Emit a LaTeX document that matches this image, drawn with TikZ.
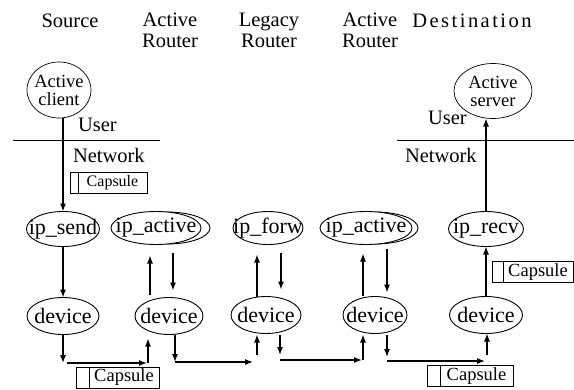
\documentclass[tikz,border=0pt]{standalone}
\usepackage{fontspec}
\setmainfont{Liberation Serif}
\usetikzlibrary{shapes.geometric,arrows.meta}
\newcommand\clapped[1]{\makebox[0pt]{#1}}
\begin{document}
\begin{tikzpicture}[x=1pt,y=-1pt,
  every node/.style={inner sep=0pt, outer sep=0pt},
  hdr/.style={font=\fontsize{20.5}{21}\selectfont, align=center},
  lbl/.style={font=\fontsize{20.5}{21}\selectfont},
  proc/.style={ellipse, draw, line width=0.9pt, fill=white,
    minimum height=34pt, font=\fontsize{22}{22}\selectfont},
  usr/.style={ellipse, draw, line width=0.7pt, align=center,
    font=\fontsize{18.5}{18}\selectfont},
  flow/.style={line width=1.2pt, -{Latex[length=8pt,width=6pt]}},
  layer/.style={line width=0.8pt},
  caps/.style={draw, line width=0.8pt, minimum height=21pt,
    font=\fontsize{18.5}{18}\selectfont}
]
\fill[white] (0,0) rectangle (574,389);
\useasboundingbox (0,0) rectangle (574,389);

% column headings
\node[hdr, anchor=base]  (hsrc) at (70,27)  {Source};
\node[hdr, anchor=north] (har1) at (170,13) {Active\\Router};
\node[hdr, anchor=north] (hlr)  at (269,13) {Legacy\\Router};
\node[hdr, anchor=north] (har2) at (370,13) {Active\\Router};
\node[hdr, anchor=base]  (hdst) at (472,27) {\addfontfeature{LetterSpace=12}Destination};

% applications in user space
\node[usr, minimum width=64pt, minimum height=56pt] (client) at (59,90)
  {\clapped{Active}\\\clapped{client}};
\node[usr, minimum width=78pt, minimum height=55pt] (server) at (493,91)
  {\clapped{Active}\\\clapped{server}};

% user / network boundary
\coordinate (ll1) at (13,140);  \coordinate (lr1) at (160,140);
\coordinate (ll2) at (397,140); \coordinate (lr2) at (574,140);
\draw[layer] (ll1) -- (lr1);
\draw[layer] (ll2) -- (lr2);
\node[lbl, anchor=base west] (user1) at (78,131)  {User};
\node[lbl, anchor=base west] (net1)  at (73,162)  {Network};
\node[lbl, anchor=base west] (user2) at (428,124) {User};
\node[lbl, anchor=base west] (net2)  at (405,162) {Network};

% network-layer processes (shadow ellipses first)
\node[proc, minimum width=86pt, minimum height=32pt] (ipa1s) at (167,228) {};
\node[proc, minimum width=86pt, minimum height=32pt] (ipa2s) at (375,228) {};
\node[proc, minimum width=73pt, minimum height=35pt] (ipsend) at (63,229)  {\clapped{ip\_send}};
\node[proc, minimum width=90pt, minimum height=33pt] (ipa1)   at (156,228) {\clapped{ip\_active}};
\node[proc, minimum width=70pt, minimum height=33pt] (ipf)    at (268,228) {\clapped{ip\_forw}};
\node[proc, minimum width=92pt, minimum height=33pt] (ipa2)   at (366,228) {\clapped{ip\_active}};
\node[proc, minimum width=75pt, minimum height=35pt] (iprecv) at (486,229) {\clapped{ip\_recv}};

% devices
\node[proc, minimum width=72pt, minimum height=37pt] (dev1) at (63,316)  {\clapped{device}};
\node[proc, minimum width=68pt, minimum height=37pt] (dev2) at (169,316) {\clapped{device}};
\node[proc, minimum width=70pt, minimum height=37pt] (dev3) at (266,315) {\clapped{device}};
\node[proc, minimum width=64pt, minimum height=37pt] (dev4) at (375,315) {\clapped{device}};
\node[proc, minimum width=73pt, minimum height=37pt] (dev5) at (486,315) {\clapped{device}};

% capsules
\node[caps, minimum width=69pt, font=\fontsize{16}{16}\selectfont] (cap1) at (112.5,182.5) {Capsule};
\node[caps, minimum width=8pt, anchor=east] (cap1t) at (cap1.west) {};
\node[caps, minimum width=70pt] (cap2) at (124,377.5) {Capsule};
\node[caps, minimum width=13pt, anchor=east] (cap2t) at (cap2.west) {};
\node[caps, minimum width=73pt] (cap3) at (476.5,376) {Capsule};
\node[caps, minimum width=13pt, anchor=east] (cap3t) at (cap3.west) {};
\node[caps, minimum width=70pt] (cap4) at (538,272) {Capsule};
\node[caps, minimum width=11pt, anchor=east] (cap4t) at (cap4.west) {};

% source side: down the stack
\draw[flow] (ipsend.north |- client.south) -- (ipsend.north);
\draw[flow] (ipsend) -- (dev1);

% arrow columns inside the routers
\coordinate (up2) at (150,0);  \coordinate (dn2) at (173,0);
\coordinate (up3) at (257,0);  \coordinate (dn3) at (281,0);
\coordinate (up4) at (363,0);  \coordinate (dn4) at (387,0);
\draw[flow, shorten <=3pt, shorten >=11pt] (up2 |- dev2.north) -- (up2 |- ipa1.south);
\draw[flow, shorten <=8pt, shorten >=7pt]  (dn2 |- ipa1.south) -- (dn2 |- dev2.north);
\draw[flow, shorten >=10pt] (up3 |- dev3.north) -- (up3 |- ipf.south);
\draw[flow, shorten <=8pt, shorten >=7pt]  (dn3 |- ipf.south) -- (dn3 |- dev3.north);
\draw[flow, shorten <=1pt, shorten >=9pt] (up4 |- dev4.north) -- (up4 |- ipa2.south);
\draw[flow, shorten <=4pt, shorten >=4pt]  (dn4 |- ipa2.south) -- (dn4 |- dev4.north);

% destination side: up the stack
\draw[flow] (dev5) -- (iprecv);
\draw[flow] (iprecv.north) -- (iprecv.north |- server.south);

% links between the devices
\coordinate (k1a) at (63,363);  \coordinate (k1b) at (148,363);
\coordinate (k2a) at (175,362); \coordinate (k2b) at (257,362);
\coordinate (k3a) at (280,360); \coordinate (k3b) at (363,360);
\coordinate (k4a) at (387,361); \coordinate (k4b) at (487,361);

\draw[flow] (dev1.south) -- (k1a);
\draw[flow, shorten <=4pt, shorten >=1pt] (k1a) -- (k1b);
\draw[flow, shorten >=4pt] (k1b) -- (k1b |- dev2.south);

\draw[flow] (k2a |- dev2.south) -- (k2a);
\draw[flow, shorten >=4pt] (k2a) -- (k2b);
\draw[flow, shorten <=7pt, shorten >=1pt] (k2b) -- (k2b |- dev3.south);

\draw[flow, shorten <=1pt, shorten >=5pt] (k3a |- dev3.south) -- (k3a);
\draw[flow, shorten >=1pt] (k3a) -- (k3b);
\draw[flow, shorten >=1pt] (k3b) -- (k3b |- dev4.south);

\draw[flow, shorten <=1pt, shorten >=4pt] (k4a |- dev4.south) -- (k4a);
\draw[flow, shorten >=2pt] (k4a) -- (k4b);
\draw[flow, shorten <=6pt] (k4b) -- (k4b |- dev5.south);
\end{tikzpicture}
\end{document}
